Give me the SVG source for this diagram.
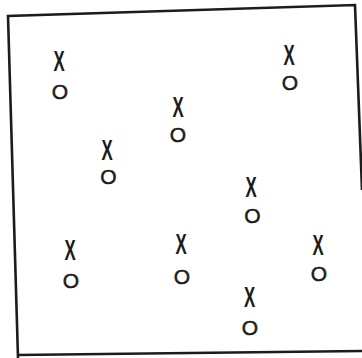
<svg xmlns="http://www.w3.org/2000/svg" width="362" height="358" viewBox="0 0 362 358">
<style>
.frame{fill:none;stroke:#1c1c1c;stroke-width:2.6;stroke-linejoin:miter}
.x{font-family:"Liberation Sans",Arial,sans-serif;font-size:30px;font-weight:bold;fill:#1c1c1c;text-anchor:middle}
.o{font-family:"Liberation Sans",Arial,sans-serif;font-size:21px;fill:#1c1c1c;stroke:#1c1c1c;stroke-width:0.5;text-anchor:middle}
</style>
<rect width="362" height="358" fill="#ffffff"/>
<path class="frame" d="M18,358 L8,16 L355,5 L362,190 M17,355 L362,351"/>
<g id="p1"><text class="x" transform="translate(59,71) scale(0.56,1)">X</text><text class="o" x="60" y="99">O</text></g>
<g id="p2"><text class="x" transform="translate(289,65) scale(0.56,1)">X</text><text class="o" x="290" y="90">O</text></g>
<g id="p3"><text class="x" transform="translate(178,117) scale(0.56,1)">X</text><text class="o" x="178" y="142">O</text></g>
<g id="p4"><text class="x" transform="translate(107,160) scale(0.56,1)">X</text><text class="o" x="108.5" y="184">O</text></g>
<g id="p5"><text class="x" transform="translate(251,197) scale(0.56,1)">X</text><text class="o" x="252.5" y="222.5">O</text></g>
<g id="p6"><text class="x" transform="translate(70,260) scale(0.56,1)">X</text><text class="o" x="71" y="287.5">O</text></g>
<g id="p7"><text class="x" transform="translate(181,254) scale(0.56,1)">X</text><text class="o" x="182" y="283.5">O</text></g>
<g id="p8"><text class="x" transform="translate(318,255) scale(0.56,1)">X</text><text class="o" x="319" y="280.5">O</text></g>
<g id="p9"><text class="x" transform="translate(249.5,306.5) scale(0.56,1)">X</text><text class="o" x="250" y="334.5">O</text></g>
<g id="connectors"/>
</svg>
